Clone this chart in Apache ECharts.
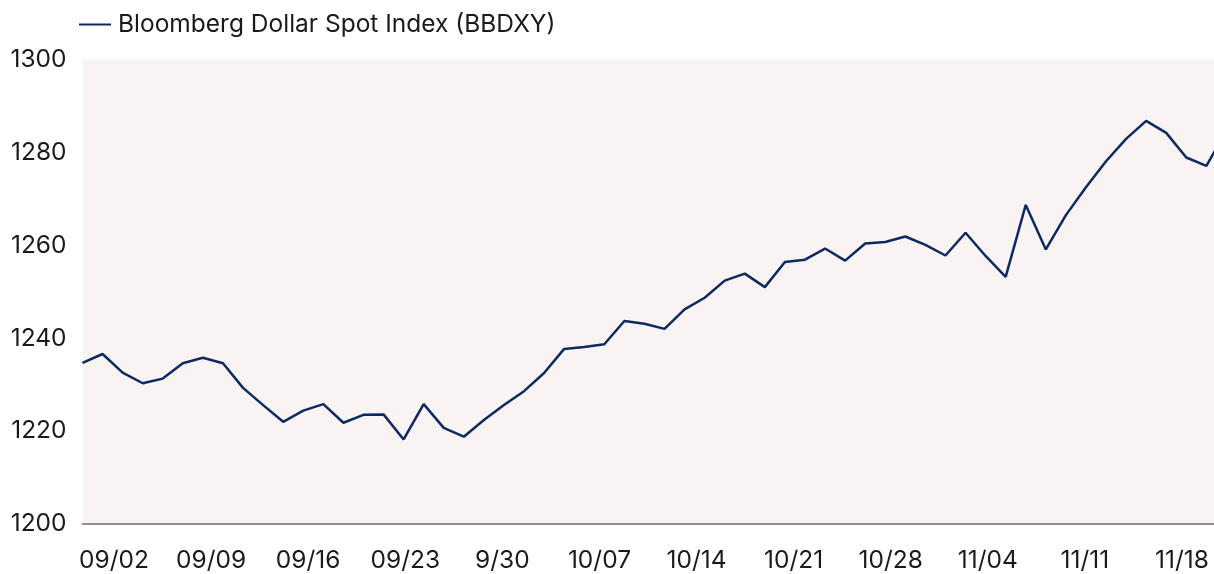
<!DOCTYPE html>
<html>
<head>
<meta charset="utf-8">
<script src="https://cdn.jsdelivr.net/npm/echarts@6/dist/echarts.min.js"></script>
<style>
html,body{margin:0;padding:0;background:#fff;}
#chart{width:1214px;height:574px;}
</style>
</head>
<body>
<div id="chart"></div>
<script>
var seriesName = 'Bloomberg Dollar Spot Index (BBDXY)';
var dates = [
  '09/02','09/03','09/04','09/05','09/06',
  '09/09','09/10','09/11','09/12','09/13',
  '09/16','09/17','09/18','09/19','09/20',
  '09/23','09/24','09/25','09/26','09/27',
  '09/30','10/01','10/02','10/03','10/04',
  '10/07','10/08','10/09','10/10','10/11',
  '10/14','10/15','10/16','10/17','10/18',
  '10/21','10/22','10/23','10/24','10/25',
  '10/28','10/29','10/30','10/31','11/01',
  '11/04','11/05','11/06','11/07','11/08',
  '11/11','11/12','11/13','11/14','11/15',
  '11/18','11/19','11/20'
];
var values = [
  1234.7,1236.6,1232.6,1230.3,1231.3,
  1234.6,1235.8,1234.6,1229.3,1225.6,
  1222.0,1224.4,1225.8,1221.8,1223.5,
  1223.6,1218.2,1225.8,1220.7,1218.8,
  1222.4,1225.6,1228.6,1232.5,1237.7,
  1238.1,1238.7,1243.7,1243.1,1242.0,
  1246.2,1248.7,1252.4,1253.9,1251.0,
  1256.4,1256.9,1259.3,1256.7,1260.4,
  1260.7,1261.9,1260.1,1257.8,1262.7,
  1257.7,1253.2,1268.7,1259.1,1266.5,
  1272.5,1278.1,1282.9,1286.8,1284.2,
  1278.9,1277.1,1284.7
];
var tickLabels = ['09/02','09/09','09/16','09/23','9/30','10/07','10/14','10/21','10/28','11/04','11/11','11/18'];

// the source image is cropped on the right: the visible window ends before the last date
var visibleSpan = 56.38;

var seriesData = values.map(function (v, i) { return [i, v, dates[i]]; });

var chart = echarts.init(document.getElementById('chart'), null, {renderer:'canvas'});
var font = 'Inter, "Noto Sans", sans-serif';
chart.setOption({
  animation: false,
  backgroundColor: '#ffffff',
  legend: {
    left: 74, top: 7,
    icon: 'rect', itemWidth: 32, itemHeight: 2, itemGap: 8,
    textStyle: {fontFamily: font, fontSize: 24.5, color: '#1a1a1a', padding: [0, 0, 0, 2]},
    data: [seriesName]
  },
  grid: [
    {left: 82.5, top: 59.5, bottom: 50, right: 0, show: true, backgroundColor: '#f9f3f3', borderWidth: 0},
    {left: 114, top: 59.5, bottom: 50, right: 32, show: false}
  ],
  xAxis: [
    {gridIndex: 0, type: 'value', min: 0, max: visibleSpan,
     axisLine: {show: true, onZero: false, lineStyle: {color: '#8f8f8f', width: 2}},
     axisTick: {show: false}, axisLabel: {show: false}, splitLine: {show: false}},
    {gridIndex: 1, type: 'category', data: tickLabels, boundaryGap: false,
     axisLine: {show: false}, axisTick: {show: false}, splitLine: {show: false},
     axisLabel: {show: true, interval: 0, margin: 24, fontFamily: font, fontSize: 24.5, color: '#1a1a1a'}}
  ],
  yAxis: [
    {gridIndex: 0, type: 'value', min: 1200, max: 1300, interval: 20,
     axisLine: {show: false}, axisTick: {show: false}, splitLine: {show: false},
     axisLabel: {margin: 16, fontFamily: font, fontSize: 24.5, color: '#1a1a1a',
       formatter: function (v) { return String(v); }}},
    {gridIndex: 1, type: 'value', show: false}
  ],
  series: [{
    name: seriesName, type: 'line', xAxisIndex: 0, yAxisIndex: 0,
    data: seriesData, symbol: 'none', smooth: false, clip: true,
    lineStyle: {color: '#0c2a60', width: 2.5},
    itemStyle: {color: '#0c2a60'}
  }]
});
</script>
</body>
</html>
